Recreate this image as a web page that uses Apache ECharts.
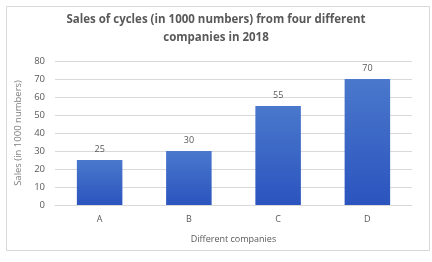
<!DOCTYPE html>
<html><head><meta charset="utf-8">
<script src="https://cdn.jsdelivr.net/npm/echarts@6/dist/echarts.min.js"></script>
<style>html,body{margin:0;padding:0;background:#fff}#c{width:432px;height:262px}</style>
</head><body><div id="c"></div>
<script>
const categories = ['A', 'B', 'C', 'D'];
const sales = [25, 30, 55, 70];
const titleLines = ['Sales of cycles (in 1000 numbers) from four different', 'companies in 2018'];
const yName = 'Sales (in 1000 numbers)';
const xName = 'Different companies';

const chart = echarts.init(document.getElementById('c'), null, {renderer: 'canvas'});
chart.setOption({
  animation: false,
  backgroundColor: '#fff',
  graphic: [{
    type: 'rect', left: 4, top: 4, shape: {width: 423, height: 244},
    style: {fill: 'none', stroke: '#d9d9d9', lineWidth: 1}, silent: true
  }],
  title: {
    text: titleLines.join('\n'), left: 'center', top: 6,
    textStyle: {fontFamily: 'Open Sans', fontSize: 11.5, fontWeight: 'bold', color: '#595959', lineHeight: 18}
  },
  grid: {left: 55, right: 20, top: 61, bottom: 57},
  xAxis: {
    type: 'category', data: categories,
    name: xName, nameLocation: 'middle', nameGap: 30,
    nameTextStyle: {fontFamily: 'Open Sans', fontSize: 9, color: '#595959'},
    axisTick: {show: false},
    axisLine: {lineStyle: {color: '#d9d9d9'}},
    axisLabel: {fontFamily: 'Open Sans', fontSize: 9, color: '#595959', margin: 10}
  },
  yAxis: {
    type: 'value', min: 0, max: 80, interval: 10,
    name: yName, nameLocation: 'middle', nameGap: 30, nameRotate: 90,
    nameTextStyle: {fontFamily: 'Open Sans', fontSize: 9.5, color: '#7f7f7f'},
    axisLine: {show: false}, axisTick: {show: false},
    axisLabel: {fontFamily: 'Open Sans', fontSize: 9.5, color: '#595959', margin: 10},
    splitLine: {lineStyle: {color: '#d9d9d9'}}
  },
  series: [{
    type: 'bar', data: sales, barWidth: '51%',
    itemStyle: {color: new echarts.graphic.LinearGradient(0, 0, 0, 1, [
      {offset: 0, color: '#4a78cc'}, {offset: 1, color: '#2b54be'}])},
    label: {show: true, position: 'top', distance: 6, fontFamily: 'Open Sans', fontSize: 9, color: '#595959'}
  }]
});
</script></body></html>
